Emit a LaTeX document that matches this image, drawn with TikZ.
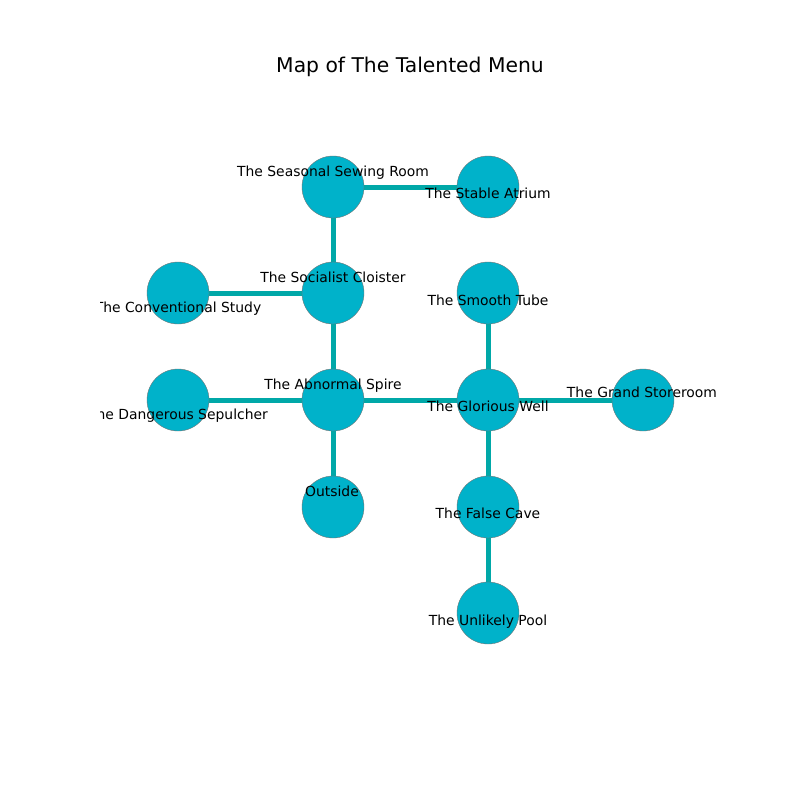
\documentclass[tikz,border=0pt]{standalone}
\usepackage{fontspec}
\setmainfont{DejaVu Sans}
\usepackage{tikz}
\usetikzlibrary{backgrounds}

\definecolor{roomfill}{RGB}{0,178,202}
\definecolor{passage}{RGB}{0,168,168}

\begin{document}
\begin{tikzpicture}[x=1pt, y=-1pt, room/.style = {circle, draw=black!55, line width=0.4pt,
	fill=roomfill, minimum size=62pt, inner sep=0pt}, edge/.style = {passage, line width=5pt},
	tag/.style = {font=\fontsize{13.9}{16}\selectfont, inner sep=0pt, text height=10pt, text depth=3pt}]

	\useasboundingbox (0,0) rectangle (800,800);

	\node (title) [font=\fontsize{20.3}{23}\selectfont, inner sep=0pt, text height=14pt, text depth=4pt]
		at (410, 68) {Map of The Talented Menu};

	\node (sewing) [room] at (333, 187) {};
	\node (atrium) [room] at (488, 187) {};

	\node (study)    [room] at (178, 293) {};
	\node (cloister) [room] at (333, 293) {};
	\node (tube)     [room] at (488, 293) {};

	\node (sepulcher) [room] at (178, 400) {};
	\node (spire)     [room] at (333, 400) {};
	\node (well)      [room] at (488, 400) {};
	\node (store)     [room] at (643, 400) {};

	\node (outside) [room] at (333, 507) {};
	\node (cave)    [room] at (488, 507) {};

	\node (pool) [room] at (488, 613) {};

	% passages, behind the rooms
	\begin{scope}[on background layer]
		\draw[edge] (sewing.center) -- (atrium.center);
		\draw[edge] (sewing.center) -- (cloister.center);
		\draw[edge] (cloister.center) -- (study.center);
		\draw[edge] (cloister.center) -- (spire.center);
		\draw[edge] (spire.center) -- (sepulcher.center);
		\draw[edge] (spire.center) -- (outside.center);
		\draw[edge] (spire.center) -- (well.center);
		\draw[edge] (well.center) -- (tube.center);
		\draw[edge] (well.center) -- (store.center);
		\draw[edge] (well.center) -- (cave.center);
		\draw[edge] (cave.center) -- (pool.center);
	\end{scope}

	% Room names
	\begin{scope}
		\clip (100, 96) rectangle (720, 712);
		\node (sewingname)    [tag] at (333, 173) {The Seasonal Sewing Room};
		\node (atriumname)    [tag] at (488, 195) {The Stable Atrium};
		\node (cloistername)  [tag] at (333, 279) {The Socialist Cloister};
		\node (studyname)     [tag] at (178, 309) {The Conventional Study};
		\node (tubename)      [tag] at (488, 302) {The Smooth Tube};
		\node (spirename)     [tag] at (333, 386) {The Abnormal Spire};
		\node (sepulchername) [tag] at (178, 416) {The Dangerous Sepulcher};
		\node (wellname)      [tag] at (488, 408) {The Glorious Well};
		\node (storename)     [tag] at (642, 394) {The Grand Storeroom};
		\node (outsidename)   [tag] at (332, 493) {Outside};
		\node (cavename)      [tag] at (488, 515) {The False Cave};
		\node (poolname)      [tag] at (488, 622) {The Unlikely Pool};
	\end{scope}
\end{tikzpicture}
\end{document}
